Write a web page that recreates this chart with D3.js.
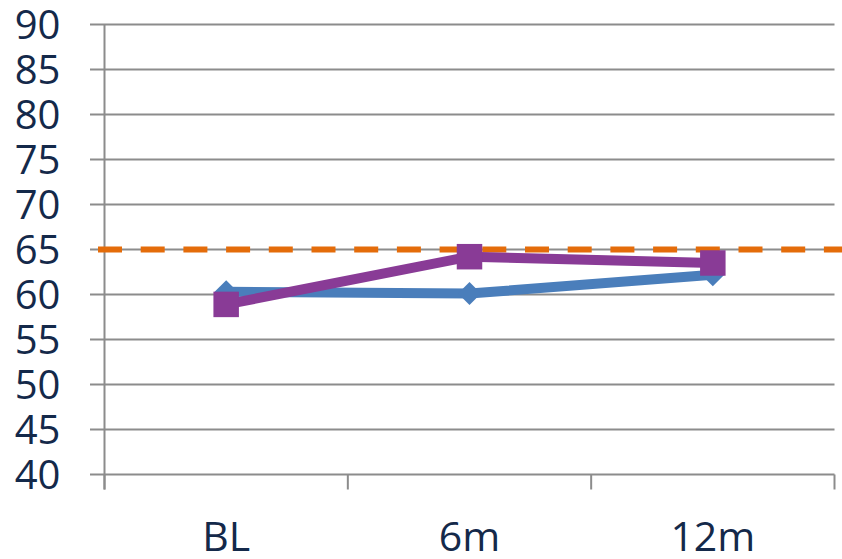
<!DOCTYPE html>
<html>
<head>
<meta charset="utf-8">
<script src="https://cdn.jsdelivr.net/npm/d3@7"></script>
<style>
  html, body { margin: 0; padding: 0; background: #fff; }
  svg { display: block; }
  text { font-family: "Open Sans", "Noto Sans", sans-serif; fill: #14294a; }
</style>
</head>
<body>
<svg id="chart" width="842" height="559"></svg>
<script>
// Time points and measured scores
const categories = ["BL", "6m", "12m"];
const seriesA = [60.3, 60.1, 62.2];   // blue, diamond markers
const seriesB = [58.9, 64.2, 63.5];   // purple, square markers
const referenceLevel = 65;            // orange dashed target line
const yTicks = [40, 45, 50, 55, 60, 65, 70, 75, 80, 85, 90];

const svg = d3.select("#chart");
const plotLeft = 104.5, plotRight = 834.5, plotTop = 24.5, plotBottom = 474.5;

const x = d3.scaleBand().domain(categories).range([plotLeft, plotRight]).padding(0);
const y = d3.scaleLinear().domain([40, 90]).range([plotBottom, plotTop]);
const cx = d => x(d) + x.bandwidth() / 2;

const gridColor = "#8c8c8c";

// horizontal gridlines
svg.append("g").selectAll("line").data(yTicks).join("line")
  .attr("x1", 90).attr("x2", plotRight)
  .attr("y1", d => y(d)).attr("y2", d => y(d))
  .attr("stroke", gridColor).attr("stroke-width", 2);

// y axis labels
const yAxis = svg.append("g").attr("transform", `translate(${plotLeft},0)`)
  .call(d3.axisLeft(y).tickValues(yTicks).tickSize(0).tickPadding(44).tickFormat(d3.format("d")));
yAxis.select(".domain").remove();
yAxis.selectAll("text").style("font-size", "40px").attr("dy", "0.34em");

// vertical axis line
svg.append("line")
  .attr("x1", plotLeft).attr("x2", plotLeft).attr("y1", plotTop).attr("y2", plotBottom + 15)
  .attr("stroke", gridColor).attr("stroke-width", 2);

// category axis with ticks at band boundaries
const boundaries = categories.map(c => x(c)).concat([plotRight]);
svg.append("g").selectAll("line").data(boundaries).join("line")
  .attr("x1", d => d).attr("x2", d => d)
  .attr("y1", plotBottom).attr("y2", plotBottom + 15)
  .attr("stroke", gridColor).attr("stroke-width", 2);

svg.append("g").selectAll("text").data(categories).join("text")
  .attr("x", d => cx(d)).attr("y", 551)
  .attr("text-anchor", "middle")
  .style("font-size", "41px")
  .text(d => d);

// reference level
svg.append("line")
  .attr("x1", 98).attr("x2", 842)
  .attr("y1", y(referenceLevel)).attr("y2", y(referenceLevel))
  .attr("stroke", "#e46c0a").attr("stroke-width", 6)
  .attr("stroke-dasharray", "24 18.7");

const line = d3.line().x(d => cx(d.c)).y(d => y(d.v));

function drawSeries(values, color, symbolType, size) {
  const pts = categories.map((c, i) => ({ c, v: values[i] }));
  svg.append("path").datum(pts)
    .attr("d", line)
    .attr("fill", "none")
    .attr("stroke", color)
    .attr("stroke-width", 10)
    .attr("stroke-linejoin", "round");
  svg.append("g").selectAll("path").data(pts).join("path")
    .attr("transform", d => `translate(${cx(d.c)},${y(d.v)})`)
    .attr("d", d3.symbol().type(symbolType).size(size))
    .attr("fill", color);
}

// blue diamond series, then purple square series on top
drawSeries(seriesA, "#4a7ebb", d3.symbolDiamond2, 338);
drawSeries(seriesB, "#893b96", d3.symbolSquare, 650);
</script>
</body>
</html>
